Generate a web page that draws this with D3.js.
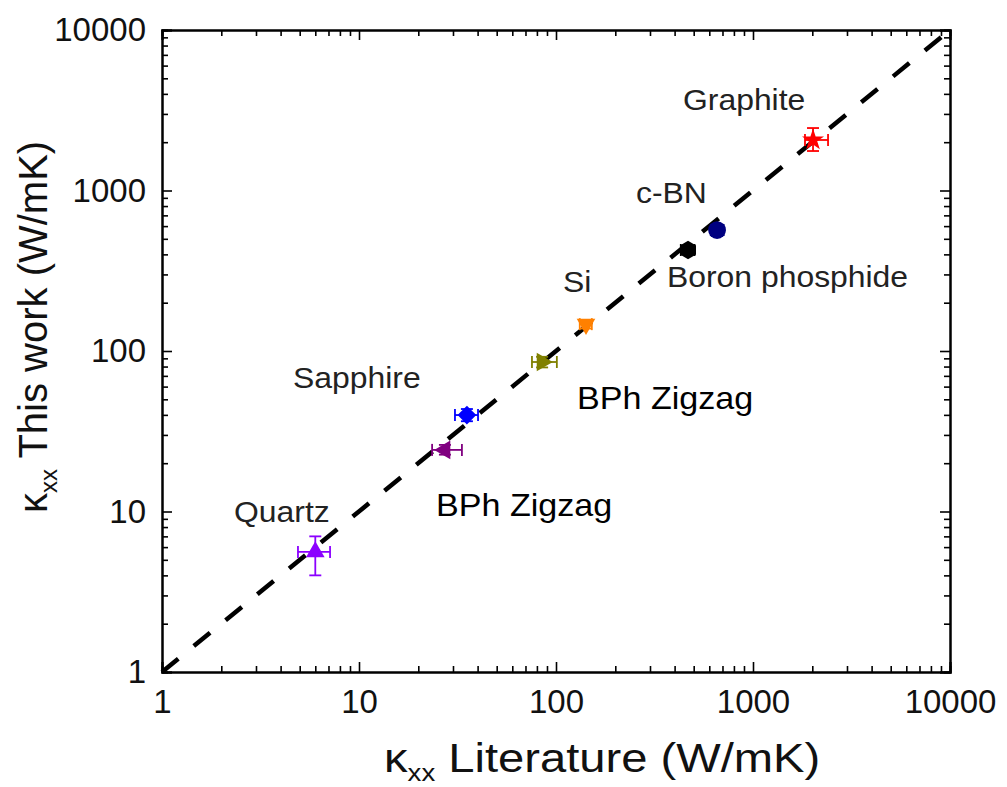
<!DOCTYPE html>
<html>
<head>
<meta charset="utf-8">
<script src="https://cdn.jsdelivr.net/npm/d3@7"></script>
<style>
  body { margin: 0; background: #fff; }
  svg { font-family: 'Liberation Sans', Arial, sans-serif; }
</style>
</head>
<body>
<div id="chart"></div>
<script>
// materials, literature value vs this work
const materials = ['Quartz', 'BPh Zigzag', 'Sapphire', 'BPh Zigzag', 'Si', 'Boron phosphide', 'c-BN', 'Graphite'];
const literature = [6.0, 27.3, 35.3, 85, 142, 468, 657, 2017];
const thisWork = [5.6, 24.2, 39.9, 85.4, 147, 426, 567, 2064];
const litLow = [4.9, 23.5, 30.7, 75.5, 132, 430, 610, 1836];
const litHigh = [7.13, 33.3, 40.2, 101, 152, 505, 710, 2404];
const workLow = [4.0, 22.6, 36.5, 79, 138, 400, 530, 1762];
const workHigh = [7.0, 26, 43.5, 92, 156, 455, 610, 2450];
const colors = ['#8b00ff', '#800080', '#0000ff', '#808000', '#ff8000', '#000000', '#000080', '#ff0000'];
const shapes = ['up', 'left', 'diamond', 'right', 'down', 'hexagon', 'circle', 'star'];

const majorTicks = [1, 10, 100, 1000, 10000];
const minorTicks = [];
[1, 10, 100, 1000].forEach((d) => {
  for (let k = 2; k <= 9; k += 1) minorTicks.push(d * k);
});

const width = 1007;
const height = 787;
const margin = { top: 30, right: 57, bottom: 115, left: 162 };

const svg = d3.select('#chart')
  .append('svg')
  .attr('width', width)
  .attr('height', height);

const x = d3.scaleLog().domain([1, 10000]).range([margin.left, width - margin.right]);
const y = d3.scaleLog().domain([1, 10000]).range([height - margin.bottom, margin.top]);

// dashed y = x line
svg.append('line')
  .attr('x1', x(1)).attr('y1', y(1))
  .attr('x2', x(10000)).attr('y2', y(10000))
  .attr('stroke', '#000')
  .attr('stroke-width', 4.5)
  .attr('stroke-dasharray', '21,20');

// axes, ticks inside on all four sides
function styleAxis(g) {
  g.select('.domain').attr('stroke', '#000').attr('stroke-width', 2);
  g.selectAll('.tick line').attr('stroke', '#000').attr('stroke-width', 1.6);
  g.selectAll('.tick text')
    .attr('fill', '#111')
    .style('font-size', '33px')
    .style('font-family', "'Liberation Sans', Arial, sans-serif");
}

const fmt = d3.format('d');
const bottomY = y(1);
const topY = y(10000);
const leftX = x(1);
const rightX = x(10000);

svg.append('g')
  .attr('transform', `translate(0,${bottomY})`)
  .call(d3.axisBottom(x).tickValues(majorTicks).tickFormat(fmt).tickSize(-10).tickPadding(18))
  .call(styleAxis);
svg.append('g')
  .attr('transform', `translate(0,${bottomY})`)
  .call(d3.axisBottom(x).tickValues(minorTicks).tickFormat('').tickSize(-6))
  .call(styleAxis);
svg.append('g')
  .attr('transform', `translate(0,${topY})`)
  .call(d3.axisTop(x).tickValues(majorTicks).tickFormat('').tickSize(-10))
  .call(styleAxis);
svg.append('g')
  .attr('transform', `translate(0,${topY})`)
  .call(d3.axisTop(x).tickValues(minorTicks).tickFormat('').tickSize(-6))
  .call(styleAxis);

svg.append('g')
  .attr('transform', `translate(${leftX},0)`)
  .call(d3.axisLeft(y).tickValues(majorTicks).tickFormat(fmt).tickSize(-10).tickPadding(16))
  .call(styleAxis);
svg.append('g')
  .attr('transform', `translate(${leftX},0)`)
  .call(d3.axisLeft(y).tickValues(minorTicks).tickFormat('').tickSize(-6))
  .call(styleAxis);
svg.append('g')
  .attr('transform', `translate(${rightX},0)`)
  .call(d3.axisRight(y).tickValues(majorTicks).tickFormat('').tickSize(-10))
  .call(styleAxis);
svg.append('g')
  .attr('transform', `translate(${rightX},0)`)
  .call(d3.axisRight(y).tickValues(minorTicks).tickFormat('').tickSize(-6))
  .call(styleAxis);

// error bars
const cap = 6;
const err = svg.append('g').attr('stroke-width', 1.8).attr('fill', 'none');
materials.forEach((m, i) => {
  const cx = x(literature[i]);
  const cy = y(thisWork[i]);
  const g = err.append('g').attr('stroke', colors[i]);
  g.append('line').attr('x1', x(litLow[i])).attr('x2', x(litHigh[i])).attr('y1', cy).attr('y2', cy);
  g.append('line').attr('x1', x(litLow[i])).attr('x2', x(litLow[i])).attr('y1', cy - cap).attr('y2', cy + cap);
  g.append('line').attr('x1', x(litHigh[i])).attr('x2', x(litHigh[i])).attr('y1', cy - cap).attr('y2', cy + cap);
  g.append('line').attr('x1', cx).attr('x2', cx).attr('y1', y(workLow[i])).attr('y2', y(workHigh[i]));
  g.append('line').attr('x1', cx - cap).attr('x2', cx + cap).attr('y1', y(workLow[i])).attr('y2', y(workLow[i]));
  g.append('line').attr('x1', cx - cap).attr('x2', cx + cap).attr('y1', y(workHigh[i])).attr('y2', y(workHigh[i]));
});

// markers
const hexagon = {
  draw(context, size) {
    const r = Math.sqrt((2 * size) / (3 * Math.sqrt(3)));
    for (let k = 0; k < 6; k += 1) {
      const a = (Math.PI / 3) * k + Math.PI / 6;
      if (k === 0) context.moveTo(r * Math.cos(a), r * Math.sin(a));
      else context.lineTo(r * Math.cos(a), r * Math.sin(a));
    }
    context.closePath();
  }
};
const symbolFor = {
  up: [d3.symbolTriangle, 150, 0],
  left: [d3.symbolTriangle, 150, -90],
  right: [d3.symbolTriangle, 150, 90],
  down: [d3.symbolTriangle, 150, 180],
  diamond: [d3.symbolSquare, 175, 45],
  hexagon: [hexagon, 220, 0],
  circle: [d3.symbolCircle, 250, 0],
  star: [d3.symbolStar, 150, 0]
};

svg.append('g')
  .selectAll('path')
  .data(materials)
  .join('path')
  .attr('d', (d, i) => d3.symbol().type(symbolFor[shapes[i]][0]).size(symbolFor[shapes[i]][1])())
  .attr('transform', (d, i) => `translate(${x(literature[i])},${y(thisWork[i])}) rotate(${symbolFor[shapes[i]][2]})`)
  .attr('fill', (d, i) => colors[i]);

// labels (the source figure is a little stretched sideways)
const labelText = ['Graphite', 'c-BN', 'Boron phosphide', 'Si', 'BPh Zigzag', 'Sapphire', 'BPh Zigzag', 'Quartz'];
const labelX = [683, 636, 667, 563, 577, 293, 436, 234];
const labelY = [110, 203, 287, 292, 409, 388, 516, 522];
const labelSize = [29, 29, 29, 29, 31, 29, 31, 29];
const labelColor = ['#222', '#222', '#222', '#222', '#000', '#222', '#000', '#222'];

svg.append('g')
  .selectAll('text')
  .data(labelText)
  .join('text')
  .attr('transform', (d, i) => `translate(${labelX[i]},${labelY[i]}) scale(1.1,1)`)
  .attr('fill', (d, i) => labelColor[i])
  .style('font-size', (d, i) => `${labelSize[i]}px`)
  .text((d) => d);

// axis titles
const xTitle = svg.append('text')
  .attr('transform', 'translate(384,772) scale(1.15,1)')
  .attr('fill', '#111')
  .style('font-size', '41px');
xTitle.append('tspan').text('κ');
xTitle.append('tspan').attr('dy', 9).style('font-size', '24px').text('xx');
xTitle.append('tspan').attr('dy', -9).text(' Literature (W/mK)');

const yTitle = svg.append('text')
  .attr('transform', 'translate(47,513) rotate(-90)')
  .attr('fill', '#111')
  .style('font-size', '40px');
yTitle.append('tspan').text('κ');
yTitle.append('tspan').attr('dy', 10).style('font-size', '24px').text('xx');
yTitle.append('tspan').attr('dy', -10).text(' This work (W/mK)');
</script>
</body>
</html>
